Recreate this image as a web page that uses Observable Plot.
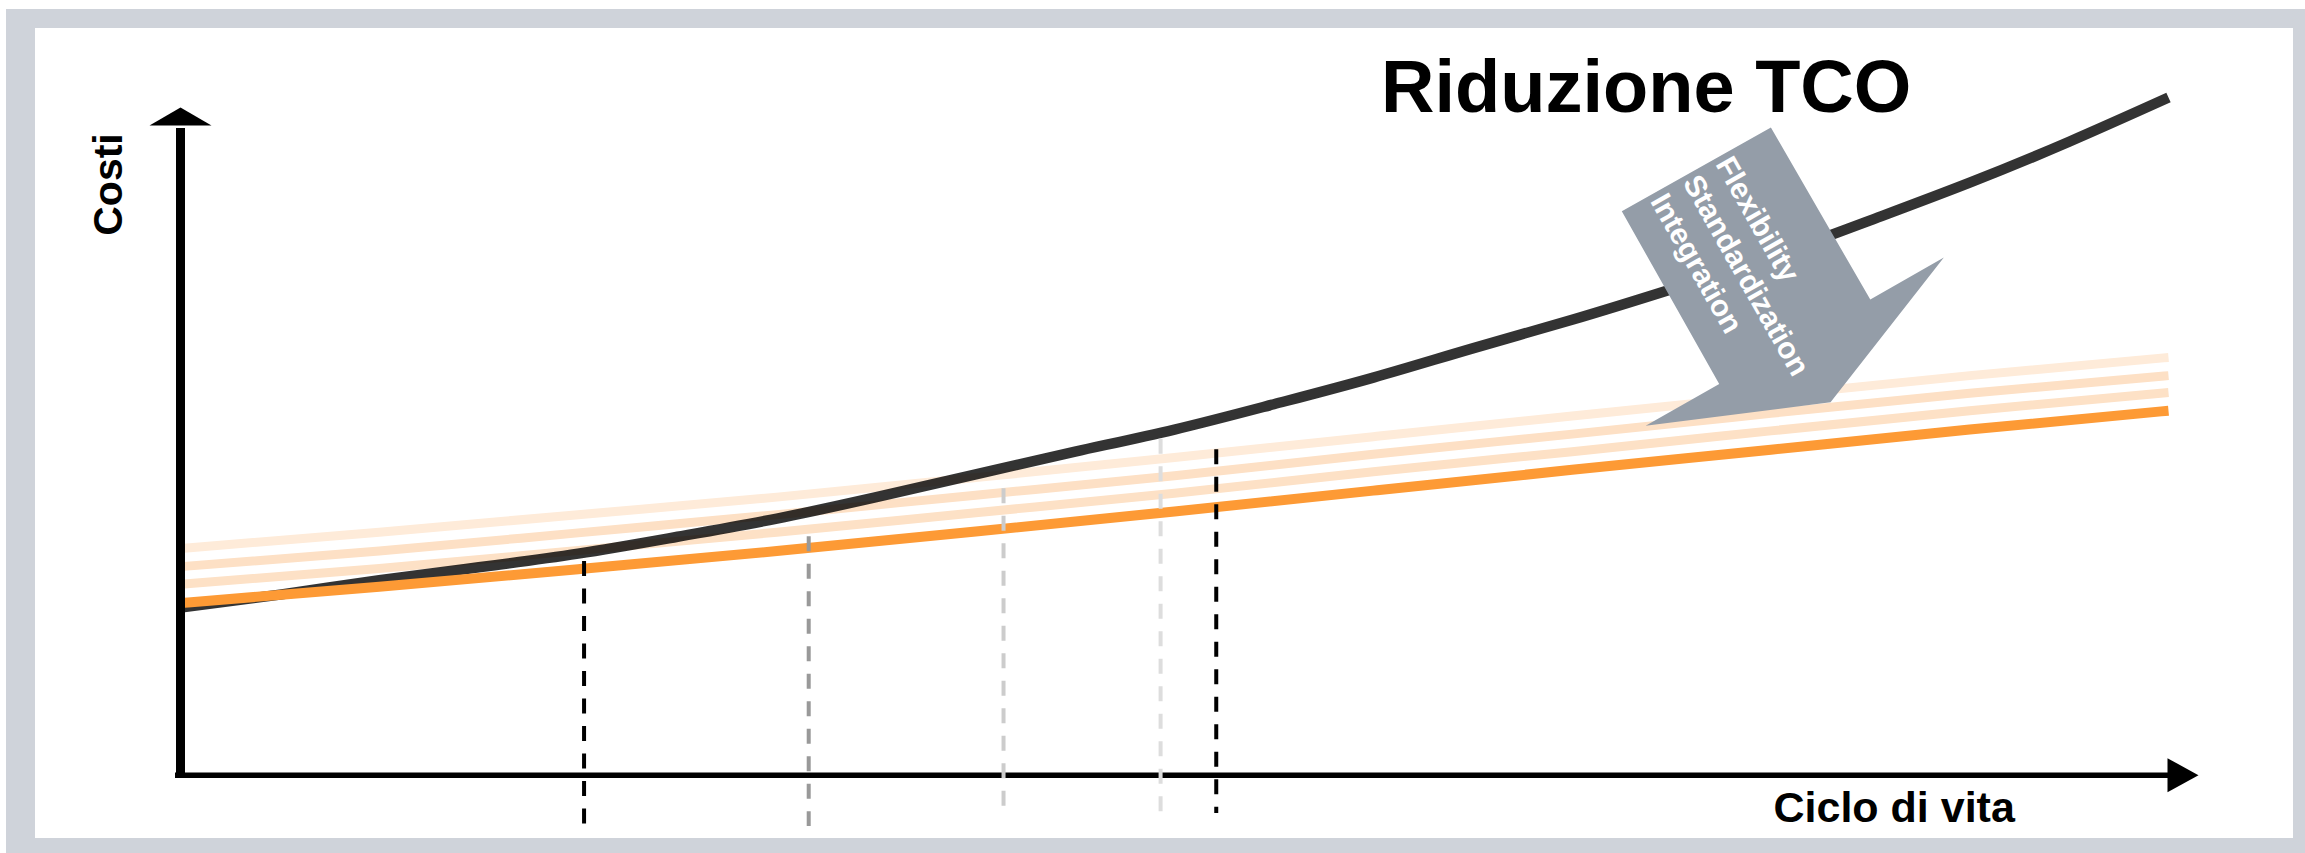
<!DOCTYPE html>
<html>
<head>
<meta charset="utf-8">
<script src="https://cdn.jsdelivr.net/npm/d3@7"></script>
<script src="https://cdn.jsdelivr.net/npm/@observablehq/plot@0.6"></script>
<style>
html, body { margin: 0; padding: 0; background: #ffffff; }
#wrap { position: relative; width: 2305px; height: 853px; overflow: hidden; }
#frame { position: absolute; left: 6px; top: 9px; width: 2299px; height: 844px; background: #cfd3da; }
#inner { position: absolute; left: 35px; top: 28px; width: 2258px; height: 810px; background: #ffffff; }
#chart { position: absolute; left: 0; top: 0; }
</style>
</head>
<body>
<div id="wrap"><div id="frame"></div><div id="inner"></div><div id="chart"></div></div>
<script>
// ---- data ----
const lifeSpan = [0, 100];          // "Ciclo di vita" axis extent
const costSpan = [0, 100];          // "Costi" axis extent

const lifeCycle = [0, 10, 20, 30, 40, 50, 60, 70, 80, 90, 100];
const tcoReduced = [26.5, 29.0, 31.7, 34.5, 37.5, 40.6, 43.8, 47.0, 50.1, 53.2, 56.1];
const tcoStep1   = [29.4, 31.8, 34.6, 37.4, 40.4, 43.4, 46.7, 49.8, 53.0, 56.1, 58.9];
const tcoStep2   = [32.1, 34.5, 37.3, 40.1, 43.1, 46.1, 49.4, 52.5, 55.7, 58.8, 61.5];
const tcoStep3   = [34.9, 37.4, 40.1, 42.8, 45.8, 48.9, 52.1, 55.3, 58.4, 61.5, 64.3];

const lifeCycleFine = [0, 5, 10, 15, 20, 25, 30, 35, 40, 45, 50, 55, 60, 65, 70, 75, 80, 85, 90, 95, 100];
const tcoTraditional = [25.8, 27.8, 30.0, 32.0, 34.1, 36.7, 39.5, 42.8, 46.3, 49.8, 53.2, 57.1, 61.2, 65.7, 70.1, 74.8, 79.8, 85.4, 91.2, 97.5, 104.3];

const markerX      = [20.3, 31.6, 41.4, 49.3, 52.1];
const markerTop    = [32.9, 36.7, 44.1, 51.7, 50.1];
const markerBottom = [-7.7, -7.9, -5.7, -6.7, -5.9];
const markerShade  = ["#000000", "#999999", "#cccccc", "#dddddd", "#000000"];

const arrowX = [72.5, 80.0, 85.0, 88.7, 83.0, 73.7, 77.4, 72.5];
const arrowY = [86.8, 99.7, 73.2, 79.7, 57.4, 53.8, 60.2, 86.8];
const arrowLabels = ["Flexibility", "Standardization", "Integration"];

const titleLabel = "Riduzione TCO";
const xLabel = "Ciclo di vita";
const yLabel = "Costi";

// ---- tables ----
const rows = (xs, ys) => xs.map((x, i) => ({x, y: ys[i]}));
const markers = markerX.map((x, i) => ({x, y1: markerTop[i], y2: markerBottom[i], c: markerShade[i]}));
const arrowPoly = rows(arrowX, arrowY);

const yHead = { draw(ctx) { ctx.moveTo(-31, 0); ctx.lineTo(31, 0); ctx.lineTo(0, -18); ctx.closePath(); } };
const xHead = { draw(ctx) { ctx.moveTo(-1, -17); ctx.lineTo(30, 0); ctx.lineTo(-1, 17); ctx.closePath(); } };

const font = "'Liberation Sans', Arial, Helvetica, sans-serif";

const chart = Plot.plot({
  width: 2305,
  height: 853,
  style: { background: "transparent", fontFamily: font },
  x: { domain: lifeSpan, range: [180, 2168], axis: null },
  y: { domain: costSpan, range: [774.7, 125], axis: null },
  marks: [
    Plot.line(rows(lifeCycle, tcoStep3), {x: "x", y: "y", stroke: "#feebd9", strokeWidth: 9, curve: "natural", strokeLinecap: "butt"}),
    Plot.line(rows(lifeCycle, tcoStep2), {x: "x", y: "y", stroke: "#fde0c5", strokeWidth: 9, curve: "natural", strokeLinecap: "butt"}),
    Plot.line(rows(lifeCycle, tcoStep1), {x: "x", y: "y", stroke: "#fde1c6", strokeWidth: 9, curve: "natural", strokeLinecap: "butt"}),
    Plot.line(rows(lifeCycleFine, tcoTraditional), {x: "x", y: "y", stroke: "#000000", strokeOpacity: 0.8, strokeWidth: 10.5, curve: "natural", strokeLinecap: "butt"}),
    Plot.line(rows(lifeCycle, tcoReduced), {x: "x", y: "y", stroke: "#fd9a35", strokeWidth: 10, curve: "natural", strokeLinecap: "butt"}),
    // axes
    Plot.ruleX([lifeSpan[0]], {y1: costSpan[0], y2: costSpan[1], stroke: "#000", strokeWidth: 9, insetBottom: -3}),
    Plot.ruleY([costSpan[0]], {x1: lifeSpan[0], x2: lifeSpan[1], stroke: "#000", strokeWidth: 5.5, insetLeft: -5}),
    Plot.dot([[lifeSpan[0], costSpan[1]]], {symbol: yHead, fill: "#000", stroke: "none"}),
    Plot.dot([[lifeSpan[1], costSpan[0]]], {symbol: xHead, fill: "#000", stroke: "none"}),
    // dashed markers
    Plot.ruleX(markers, {x: "x", y1: "y1", y2: "y2", stroke: "c", strokeWidth: 4, strokeDasharray: "15,12.5"}),
    // arrow
    Plot.line(arrowPoly, {x: "x", y: "y", fill: "#949da8", stroke: "none", curve: "linear"}),
    Plot.text([arrowLabels.join("\n")], {x: 78.35, y: 96.1, text: d => d, rotate: 60.5, textAnchor: "start", lineAnchor: "top", lineHeight: 1.25, fontSize: 30, fontWeight: "bold", fill: "#ffffff", fontFamily: font}),
    // labels
    Plot.text([titleLabel], {x: 60.39, y: 102.15, text: d => d, textAnchor: "start", lineAnchor: "bottom", fontSize: 74, fontWeight: "bold", fill: "#000", fontFamily: font}),
    Plot.text([xLabel], {x: 80.13, y: -7.28, text: d => d, textAnchor: "start", lineAnchor: "bottom", fontSize: 43, fontWeight: "bold", fill: "#000", fontFamily: font}),
    Plot.text([yLabel], {x: -2.94, y: 90.92, text: d => d, rotate: -90, textAnchor: "middle", lineAnchor: "bottom", fontSize: 41, fontWeight: "bold", fill: "#000", fontFamily: font})
  ]
});
document.getElementById("chart").appendChild(chart);
</script>
</body>
</html>
